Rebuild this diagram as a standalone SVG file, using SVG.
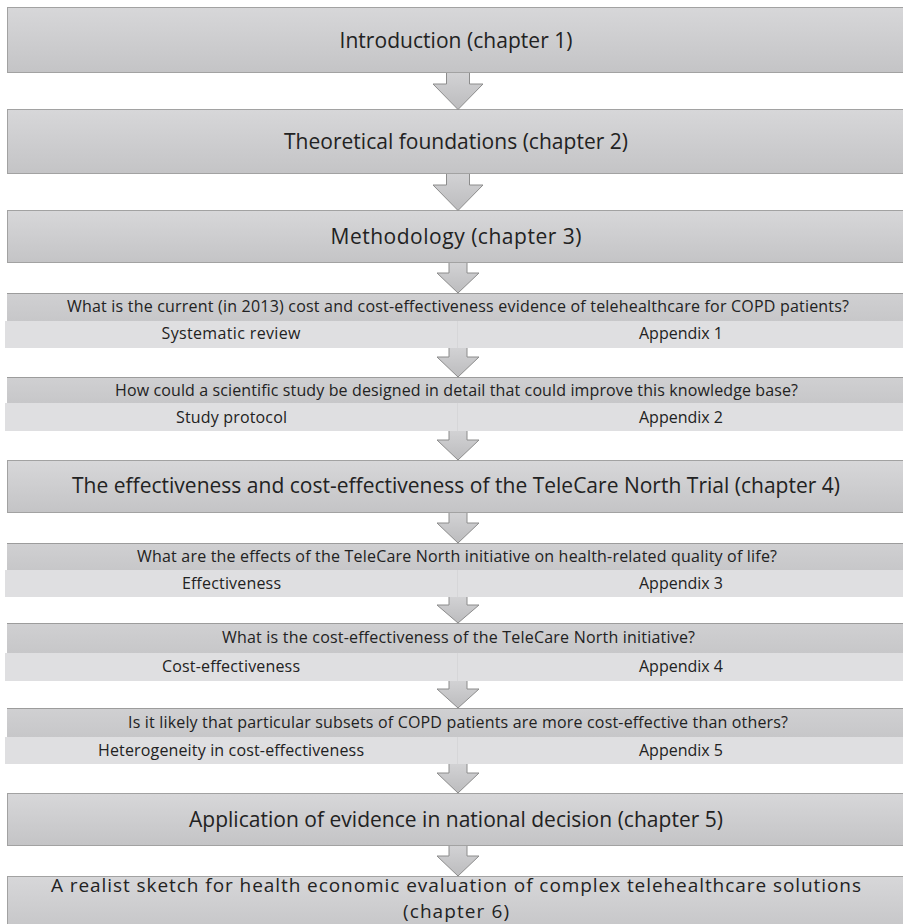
<svg xmlns="http://www.w3.org/2000/svg" width="903" height="924" viewBox="0 0 903 924">
<defs>
<linearGradient id="gMain" x1="0" y1="0" x2="0" y2="1">
<stop offset="0" stop-color="#d7d7d9"/>
<stop offset="1" stop-color="#c4c4c6"/>
</linearGradient>
<linearGradient id="gQ" x1="0" y1="0" x2="0" y2="1">
<stop offset="0" stop-color="#d0d0d2"/>
<stop offset="1" stop-color="#c7c7c9"/>
</linearGradient>
<linearGradient id="gArrow" x1="0" y1="0" x2="0" y2="1">
<stop offset="0" stop-color="#d2d2d4"/>
<stop offset="1" stop-color="#bcbcbe"/>
</linearGradient>
<style>
.main{fill:url(#gMain);stroke:#a2a2a2;stroke-width:1}
.q{fill:url(#gQ)}
.qline{stroke:#9c9c9c;stroke-width:1}
.sub{fill:#dfdfe1}
.div{stroke:#d6d6d8;stroke-width:1}
.big{font-family:"Open Sans","Liberation Sans",sans-serif;font-size:21px;fill:#222222;text-anchor:middle}
.big2{font-family:"Open Sans","Liberation Sans",sans-serif;font-size:19px;fill:#222222;text-anchor:middle}
.sm{font-family:"Open Sans","Liberation Sans",sans-serif;font-size:16px;fill:#222222;text-anchor:middle}
.arrow{fill:url(#gArrow);stroke:#8c8c8c;stroke-width:1;stroke-linejoin:miter}
</style>
</defs>
<rect width="903" height="924" fill="#ffffff"/>

<g id="intro">
<rect class="main" x="7.5" y="7.5" width="900" height="65"/>
<text class="big" x="456" y="48" textLength="233">Introduction (chapter 1)</text>
</g>
<g id="theory">
<rect class="main" x="7.5" y="109.5" width="900" height="64"/>
<text class="big" x="456" y="149" textLength="344">Theoretical foundations (chapter 2)</text>
</g>
<g id="method">
<rect class="main" x="7.5" y="210.5" width="900" height="52"/>
<text class="big" x="456" y="244" textLength="251">Methodology (chapter 3)</text>
</g>

<g id="q1">
<rect class="q" x="7" y="293" width="900" height="28"/>
<line class="qline" x1="7" y1="293.5" x2="903" y2="293.5"/>
<rect class="sub" x="5" y="321" width="902" height="27"/>
<line class="div" x1="457.5" y1="321" x2="457.5" y2="348"/>
<text class="sm" x="458" y="312" textLength="782">What is the current (in 2013) cost and cost-effectiveness evidence of telehealthcare for COPD patients?</text>
<text class="sm" x="231" y="339" textLength="139">Systematic review</text>
<text class="sm" x="681" y="339" textLength="84">Appendix 1</text>
</g>

<g id="q2">
<rect class="q" x="7" y="377" width="900" height="26"/>
<line class="qline" x1="7" y1="377.5" x2="903" y2="377.5"/>
<rect class="sub" x="5" y="403" width="902" height="28"/>
<line class="div" x1="457.5" y1="403" x2="457.5" y2="431"/>
<text class="sm" x="456.5" y="396" textLength="683">How could a scientific study be designed in detail that could improve this knowledge base?</text>
<text class="sm" x="231.5" y="423" textLength="111">Study protocol</text>
<text class="sm" x="681" y="423" textLength="84">Appendix 2</text>
</g>

<g id="trial">
<rect class="main" x="7.5" y="460.5" width="900" height="52"/>
<text class="big" x="456" y="493" textLength="768">The effectiveness and cost-effectiveness of the TeleCare North Trial (chapter 4)</text>
</g>

<g id="q3">
<rect class="q" x="7" y="543" width="900" height="27"/>
<line class="qline" x1="7" y1="543.5" x2="903" y2="543.5"/>
<rect class="sub" x="5" y="570" width="902" height="27"/>
<line class="div" x1="457.5" y1="570" x2="457.5" y2="597"/>
<text class="sm" x="457" y="562" textLength="640">What are the effects of the TeleCare North initiative on health-related quality of life?</text>
<text class="sm" x="231.5" y="589" textLength="99">Effectiveness</text>
<text class="sm" x="681" y="589" textLength="84">Appendix 3</text>
</g>

<g id="q4">
<rect class="q" x="7" y="623" width="900" height="30"/>
<line class="qline" x1="7" y1="623.5" x2="903" y2="623.5"/>
<rect class="sub" x="5" y="653" width="902" height="28"/>
<line class="div" x1="457.5" y1="653" x2="457.5" y2="681"/>
<text class="sm" x="458.5" y="643" textLength="473">What is the cost-effectiveness of the TeleCare North initiative?</text>
<text class="sm" x="231" y="672" textLength="138">Cost-effectiveness</text>
<text class="sm" x="681" y="672" textLength="84">Appendix 4</text>
</g>

<g id="q5">
<rect class="q" x="7" y="708" width="900" height="29"/>
<line class="qline" x1="7" y1="708.5" x2="903" y2="708.5"/>
<rect class="sub" x="5" y="737" width="902" height="27"/>
<line class="div" x1="457.5" y1="737" x2="457.5" y2="764"/>
<text class="sm" x="458" y="728" textLength="660">Is it likely that particular subsets of COPD patients are more cost-effective than others?</text>
<text class="sm" x="231" y="756" textLength="266">Heterogeneity in cost-effectiveness</text>
<text class="sm" x="681" y="756" textLength="84">Appendix 5</text>
</g>

<g id="application">
<rect class="main" x="7.5" y="793.5" width="900" height="52"/>
<text class="big" x="456" y="827" textLength="534">Application of evidence in national decision (chapter 5)</text>
</g>

<g id="sketch">
<rect class="main" x="7.5" y="876.5" width="900" height="60"/>
<text class="big2" x="456" y="892" textLength="810">A realist sketch for health economic evaluation of complex telehealthcare solutions</text>
<text class="big2" x="456" y="918" textLength="106">(chapter 6)</text>
</g>

<g id="connectors">
<path class="arrow" d="M446.5,73 L446.5,84 L433,84 L458,109.5 L483,84 L469.5,84 L469.5,73"/>
<path class="arrow" d="M446.5,174 L446.5,185 L433,185 L458,210.5 L483,185 L469.5,185 L469.5,174"/>
<path class="arrow" d="M449,263 L449,273 L437,273 L458,293 L479,273 L467,273 L467,263"/>
<path class="arrow" d="M449,348 L449,357 L437,357 L458,377 L479,357 L467,357 L467,348"/>
<path class="arrow" d="M449,431 L449,440 L437,440 L458,460 L479,440 L467,440 L467,431"/>
<path class="arrow" d="M449,513 L449,523 L437,523 L458,543 L479,523 L467,523 L467,513"/>
<path class="arrow" d="M449,597 L449,605 L437,605 L458,623 L479,605 L467,605 L467,597"/>
<path class="arrow" d="M449,681 L449,689 L437,689 L458,708 L479,689 L467,689 L467,681"/>
<path class="arrow" d="M449,764 L449,773 L437,773 L458,793 L479,773 L467,773 L467,764"/>
<path class="arrow" d="M449,846 L449,856 L437,856 L458,876 L479,856 L467,856 L467,846"/>
</g>
</svg>
